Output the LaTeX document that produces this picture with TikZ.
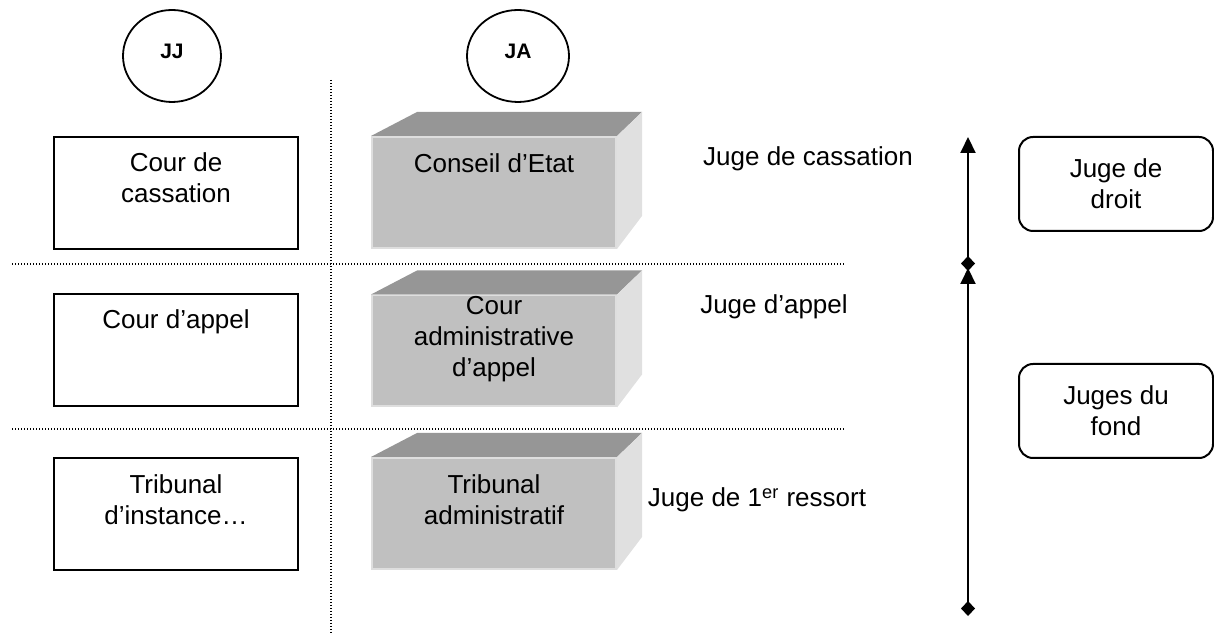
\documentclass[tikz,border=0pt]{standalone}
\usepackage{fontspec}
\setmainfont{Liberation Sans}
\usetikzlibrary{calc,shapes.geometric,arrows.meta}
\definecolor{facegray}{RGB}{192,192,192}
\definecolor{topgray}{RGB}{150,150,150}
\definecolor{sidegray}{RGB}{224,224,224}
\tikzset{
  txt/.style={align=center, inner sep=0pt, font=\fontsize{13}{15.5}\selectfont},
  ordre/.style={draw, ellipse, line width=.9pt, minimum width=49pt, minimum height=46pt,
                inner sep=0pt, text depth=5pt, font=\bfseries\fontsize{10.5}{12}\selectfont},
  jjbox/.style={draw, line width=1pt, minimum width=122pt, minimum height=56pt, inner sep=0pt},
  cube/.style={fill=facegray, draw=black!13, line width=1pt, minimum width=122pt, minimum height=55.5pt, inner sep=0pt},
  juge/.style={draw, line width=1pt, rounded corners=7pt, minimum width=97pt, minimum height=47pt,
               align=center, inner sep=0pt, font=\fontsize{13}{15.5}\selectfont},
  sep/.style={line width=.6pt, dash pattern=on .6pt off .9pt},
  fleche/.style={line width=1pt, {Diamond[length=7.5pt,width=7pt]}-{Triangle[length=8pt,width=7.5pt]}}
}
\begin{document}
\begin{tikzpicture}[x=.5pt,y=-.5pt]
\useasboundingbox (0,0) rectangle (1214,635);

    % separateurs
    \coordinate (v1) at (331,80);  \coordinate (v2) at (331,635);
    \draw[sep] (v1) -- (v2);
    \foreach \y/\n in {264/a,429/b}
             { \coordinate (h\n1) at (12,\y); \coordinate (h\n2) at (845,\y);
               \draw[sep] (h\n1) -- (h\n2); }

    % ordres
    \node (JJ) at (172,56) [ordre] {JJ};
    \node (JA) at (518,56) [ordre, minimum width=51pt] {JA};

    % juridictions judiciaires
    \node (cc) at (176,193) [jjbox] {};
    \node (cc-t) at (176,178) [txt] {Cour de\\cassation};
    \node (ca) at (176,350.5) [jjbox] {};
    \node (ca-t) at (176,322) [txt] {Cour d’appel};
    \node (ti) at (176,514) [jjbox] {};
    \node (ti-t) at (176,500) [txt] {Tribunal\\d’instance…};

    % juridictions administratives
    \foreach \n/\y in {ce/192.5,caa/351,ta/513.5}
             { \node (\n) at (494,\y) [cube] {};
               \fill[topgray] (\n.north west) -- ++(46,-24) -- ($(\n.north east)+(25,-24)$) -- (\n.north east) -- cycle;
               \fill[sidegray] (\n.north east) -- ++(25,-24) -- ($(\n.south east)+(25,-33)$) -- (\n.south east) -- cycle;}
    \node (ce-t) at (494,163) [txt] {Conseil d’Etat};
    \node (caa-t) at (494,339) [txt] {Cour\\administrative\\d’appel};
    \node (ta-t) at (494,500) [txt] {Tribunal\\administratif};

    % degres
    \node (jcass) at (808,159) [txt] {Juge de cassation};
    \node (jappel) at (774,307) [txt] {Juge d’appel};
    \node (jpremier) at (757,500) [txt] {Juge de 1\textsuperscript{er} ressort};

    % fleches
    \coordinate (droit-bas) at (968,271); \coordinate (droit-haut) at (968,137);
    \coordinate (fond-bas) at (968,616);  \coordinate (fond-haut) at (968,268);
    \draw[fleche] (droit-bas) -- (droit-haut);
    \draw[fleche] (fond-bas) -- (fond-haut);

    \node (droit) at (1116,184) [juge] {Juge de\\droit};
    \node (fond) at (1116,411) [juge] {Juges du\\fond};

\end{tikzpicture}
\end{document}
